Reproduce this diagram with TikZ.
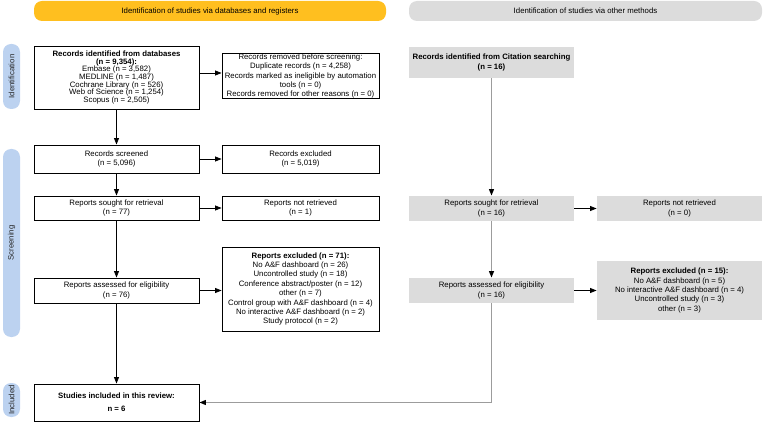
\documentclass[tikz,border=0pt]{standalone}
\usepackage{fontspec}
\setmainfont{Liberation Sans}
\usetikzlibrary{arrows.meta}
\definecolor{prismayellow}{HTML}{FFBF1F}
\definecolor{prismagrey}{HTML}{DCDCDC}
\definecolor{prismablue}{HTML}{BCD2F0}
\definecolor{lineggrey}{HTML}{9C9C9C}
\tikzset{
    box/.style={draw, line width=0.9pt, fill=white, align=center, inner sep=0pt,
        minimum height=#1, font=\fontsize{7.8}{9.4}\selectfont, text=black},
    greybox/.style={box=#1, draw=none, fill=prismagrey},
    banner/.style={fill=#1, rounded corners=8pt, minimum width=352pt, minimum height=20pt,
        inner sep=0pt, font=\fontsize{7.8}{9.4}\selectfont},
    pill/.style={fill=prismablue, rounded corners=8pt, minimum width=#1, minimum height=17pt,
        inner sep=0pt, rotate=90, font=\fontsize{7.8}{9.4}\selectfont, text=black!85},
    flow/.style={->, line width=0.8pt},
    greyflow/.style={-{Triangle[length=6.5pt,width=5pt,color=black]}, lineggrey, line width=1.2pt},
    >={Triangle[length=6.5pt,width=5pt]},
}
\begin{document}
\begin{tikzpicture}[x=1pt,y=-1pt]
    \useasboundingbox (0,0) rectangle (763,422);

    % banners and phases
    \node[banner=prismayellow] (bannerdb) at (210,11) {Identification of studies via databases and registers};
    \node[banner=prismagrey, minimum width=353pt] (bannerother) at (585.5,11) {Identification of studies via other methods};
    \node[pill=65pt] (phaseid) at (11.5,76.5) {Identification};
    \node[pill=188pt] (phasescr) at (11.5,243) {Screening};
    \node[pill=34pt] (phaseinc) at (11.5,400) {Included};

    % databases and registers
    \node[box=63pt, minimum width=165pt, font=\fontsize{7.8}{7.7}\selectfont] (db) at (116.5,77.5)
        {\textbf{Records identified from databases}\\\textbf{(n = 9,354):}\\Embase (n = 3,582)\\MEDLINE (n = 1,487)\\Cochrane Library (n = 526)\\Web of Science (n = 1,254)\\Scopus (n = 2,505)};
    \node[box=44pt, minimum width=157pt] (removed) at (300.5,76)
        {Records removed before screening:\\Duplicate records (n = 4,258)\\Records marked as ineligible by automation\\tools (n = 0)\\Records removed for other reasons (n = 0)};
    \node[box=28pt, minimum width=165pt] (screened) at (116.5,159) {Records screened\\(n = 5,096)};
    \node[box=28pt, minimum width=157pt] (excluded) at (300.5,159) {Records excluded\\(n = 5,019)};
    \node[box=24pt, minimum width=165pt] (sought) at (116.5,208) {Reports sought for retrieval\\(n = 77)};
    \node[box=24pt, minimum width=157pt] (notretr) at (300.5,208) {Reports not retrieved\\(n = 1)};
    \node[box=25pt, minimum width=165pt] (assessed) at (116.5,290.5) {Reports assessed for eligibility\\(n = 76)};
    \node[box=84pt, minimum width=157pt] (reportsexcl) at (300.5,289)
        {\textbf{Reports excluded (n = 71):}\\No A\&F dashboard (n = 26)\\Uncontrolled study (n = 18)\\Conference abstract/poster (n = 12)\\other (n = 7)\\Control group with A\&F dashboard (n = 4)\\No interactive A\&F dashboard (n = 2)\\Study protocol (n = 2)};
    \node[box=37pt, minimum width=165pt, font=\fontsize{7.8}{13}\selectfont] (incl) at (116.5,402.5)
        {\textbf{Studies included in this review:}\\\textbf{n = 6}};

    % other methods
    \node[greybox=31pt, minimum width=165pt] (citation) at (491.5,62.5)
        {\textbf{Records identified from Citation searching}\\\textbf{(n = 16)}};
    \node[greybox=25pt, minimum width=165pt] (soughtother) at (491.5,208.5) {Reports sought for retrieval\\(n = 16)};
    \node[greybox=25pt, minimum width=165pt] (notretrother) at (679.5,208.5) {Reports not retrieved\\(n = 0)};
    \node[greybox=25pt, minimum width=165pt] (assessedother) at (491.5,290.5) {Reports assessed for eligibility\\(n = 16)};
    \node[greybox=59pt, minimum width=165pt] (reportsexclother) at (679.5,290.5)
        {\textbf{Reports excluded (n = 15):}\\No A\&F dashboard (n = 5)\\No interactive A\&F dashboard (n = 4)\\Uncontrolled study (n = 3)\\other (n = 3)};

    \draw [flow] (db) -- (screened);
    \draw [flow] (screened) -- (sought);
    \draw [flow] (sought) -- (assessed);
    \draw [flow] (assessed) -- (incl);
    \draw [flow] (db.east |- 0,73) -- (removed.west |- 0,73);
    \draw [flow] (screened) -- (excluded);
    \draw [flow] (sought) -- (notretr);
    \draw [flow] (assessed) -- (assessed -| reportsexcl.west);

    \draw [greyflow] (citation) -- (soughtother);
    \draw [greyflow] (soughtother) -- (assessedother);
    \draw [greyflow] (assessedother) |- (incl);
    \draw [flow] (soughtother) -- (notretrother);
    \draw [flow] (assessedother) -- (reportsexclother);
\end{tikzpicture}
\end{document}
